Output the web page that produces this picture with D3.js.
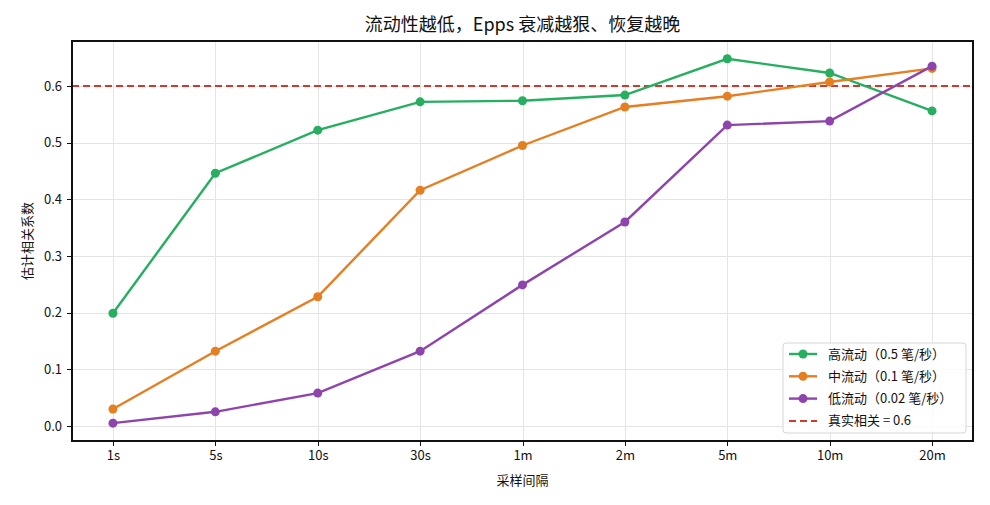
<!DOCTYPE html>
<html>
<head>
<meta charset="utf-8">
<title>Epps</title>
<script src="https://cdn.jsdelivr.net/npm/d3@7/dist/d3.min.js"></script>
<style>
  body{margin:0;background:#fff;}
  text{font-family:"Noto Sans CJK SC","DejaVu Sans",sans-serif;fill:#111;}
  .axis path,.axis line{stroke:#111;shape-rendering:crispEdges;}
  .axis text{font-size:13px;}
  .grid line{stroke:#e4e4e4;shape-rendering:crispEdges;}
  .grid path{display:none;}
</style>
</head>
<body>
<script>
// 采样间隔
var categories = ["1s","5s","10s","30s","1m","2m","5m","10m","20m"];
var highLiq = [0.199,0.446,0.522,0.572,0.574,0.584,0.648,0.623,0.556];
var midLiq  = [0.030,0.132,0.228,0.416,0.495,0.563,0.582,0.607,0.631];
var lowLiq  = [0.005,0.025,0.058,0.132,0.249,0.360,0.531,0.538,0.635];
var trueCorr = 0.6;
var yTicks = [0.0,0.1,0.2,0.3,0.4,0.5,0.6];
var seriesNames = ["高流动（0.5 笔/秒）","中流动（0.1 笔/秒）","低流动（0.02 笔/秒）"];
var colors = ["#27ae60","#e67e22","#8e44ad"];

var width = 990, height = 505;
var margin = {left:72, right:17, top:41, bottom:64};
var w = width - margin.left - margin.right;
var h = height - margin.top - margin.bottom;

var svg = d3.select("body").append("svg")
  .attr("width", width).attr("height", height);

var x = d3.scaleLinear().domain([-0.4, categories.length - 1 + 0.4]).range([0, w]);
var y = d3.scaleLinear().domain([-0.0265, 0.6794]).range([h, 0]);

var g = svg.append("g").attr("transform","translate("+margin.left+","+margin.top+")");

// 网格线
g.append("g").attr("class","grid")
  .attr("transform","translate(0,"+h+")")
  .call(d3.axisBottom(x).tickValues(d3.range(categories.length)).tickSize(-h).tickFormat(""));
g.append("g").attr("class","grid")
  .call(d3.axisLeft(y).tickValues(yTicks).tickSize(-w).tickFormat(""));

// 坐标轴
var xAxis = g.append("g").attr("class","axis")
  .attr("transform","translate(0,"+h+")")
  .call(d3.axisBottom(x).tickValues(d3.range(categories.length))
    .tickFormat(function(i){return categories[i];}).tickSize(5).tickPadding(5));
var yAxis = g.append("g").attr("class","axis")
  .call(d3.axisLeft(y).tickValues(yTicks).tickFormat(d3.format(".1f")).tickSize(5).tickPadding(5));
xAxis.select(".domain").remove();
yAxis.select(".domain").remove();

// 真实相关线
g.append("line")
  .attr("x1",0).attr("x2",w)
  .attr("y1",y(trueCorr)).attr("y2",y(trueCorr))
  .attr("stroke","#d0392b").attr("stroke-width",2)
  .attr("stroke-dasharray","7,4");

var line = d3.line()
  .x(function(d,i){return x(i);})
  .y(function(d){return y(d);});

[highLiq, midLiq, lowLiq].forEach(function(data, k){
  g.append("path")
    .attr("d", line(data))
    .attr("fill","none")
    .attr("stroke", colors[k])
    .attr("stroke-width",2.4);
  g.selectAll(".pt"+k).data(data).enter().append("circle")
    .attr("cx",function(d,i){return x(i);})
    .attr("cy",function(d){return y(d);})
    .attr("r",4.5)
    .attr("fill",colors[k]);
});

// 边框
g.append("rect").attr("width",w).attr("height",h)
  .attr("fill","none").attr("stroke","#111").attr("stroke-width",1.2)
  .attr("shape-rendering","crispEdges");

// 标题
svg.append("text").attr("x", margin.left + w/2).attr("y", 31)
  .attr("text-anchor","middle").style("font-size","18px")
  .text("流动性越低，Epps 衰减越狠、恢复越晚");
svg.append("text").attr("x", margin.left + w/2).attr("y", 485)
  .attr("text-anchor","middle").style("font-size","13px")
  .text("采样间隔");
svg.append("text")
  .attr("transform","translate(32,"+(margin.top + h/2)+") rotate(-90)")
  .attr("text-anchor","middle").style("font-size","13px")
  .text("估计相关系数");

// 图例
var legend = svg.append("g").attr("transform","translate(783,343)");
legend.append("rect").attr("width",183).attr("height",90).attr("rx",3)
  .attr("fill","#fff").attr("fill-opacity",0.85)
  .attr("stroke","#d6d6d6");
seriesNames.forEach(function(name,k){
  var yy = 11 + k*22.3;
  legend.append("line").attr("x1",6).attr("x2",34).attr("y1",yy).attr("y2",yy)
    .attr("stroke",colors[k]).attr("stroke-width",2.4);
  legend.append("circle").attr("cx",20).attr("cy",yy).attr("r",4.5).attr("fill",colors[k]);
  legend.append("text").attr("x",45).attr("y",yy+4.5).style("font-size","13px").text(name);
});
var ly = 11 + 3*22.3;
legend.append("line").attr("x1",6).attr("x2",34).attr("y1",ly).attr("y2",ly)
  .attr("stroke","#d0392b").attr("stroke-width",2).attr("stroke-dasharray","7,4");
legend.append("text").attr("x",45).attr("y",ly+4.5).style("font-size","13px").text("真实相关 = " + trueCorr);
</script>
</body>
</html>
